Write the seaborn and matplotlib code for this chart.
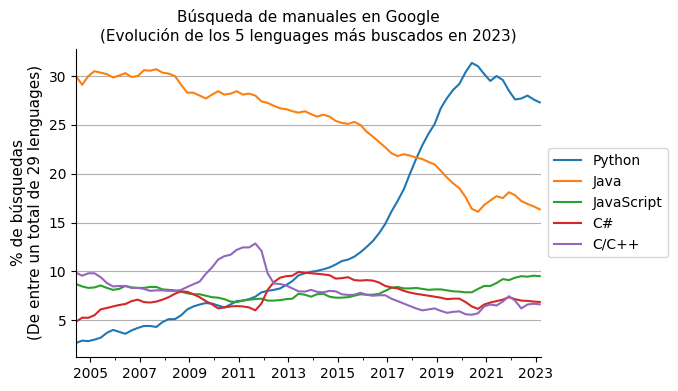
import matplotlib
matplotlib.use("Agg")
import matplotlib.pyplot as plt
import matplotlib.dates as mdates
import matplotlib.ticker as mticker
import seaborn as sns
import pandas as pd

# Quarterly samples (Jun 2004 .. Mar 2023)
dates = pd.date_range("2004-06-01", "2023-03-01", freq="3MS")

python = [2.66, 2.9, 2.85, 3.0, 3.2, 3.7, 4.0, 3.8, 3.6, 3.95, 4.2, 4.4, 4.4, 4.3, 4.8, 5.1,
          5.1, 5.5, 6.1, 6.4, 6.6, 6.75, 6.7, 6.5, 6.3, 6.6, 6.95, 7.0, 7.15, 7.4, 7.85, 8.0,
          8.1, 8.25, 8.6, 9.0, 9.6, 9.8, 9.95, 10.05, 10.2, 10.4, 10.7, 11.05, 11.2, 11.5,
          11.95, 12.5, 13.1, 13.9, 14.85, 16.1, 17.2, 18.4, 20.0, 21.5, 22.9, 24.1, 25.1,
          26.7, 27.75, 28.6, 29.2, 30.4, 31.35, 31.0, 30.2, 29.5, 30.0, 29.6, 28.5, 27.6,
          27.7, 28.0, 27.6, 27.3]
java = [30.0, 29.1, 30.0, 30.5, 30.35, 30.2, 29.85, 30.05, 30.3, 29.9, 30.0, 30.6, 30.55,
        30.7, 30.35, 30.25, 30.0, 29.1, 28.3, 28.3, 28.0, 27.7, 28.1, 28.45, 28.1, 28.2,
        28.45, 28.1, 28.2, 28.0, 27.4, 27.25, 26.95, 26.7, 26.6, 26.4, 26.25, 26.4, 26.1,
        25.85, 26.05, 25.85, 25.4, 25.2, 25.1, 25.3, 25.0, 24.3, 23.8, 23.25, 22.7, 22.1,
        21.8, 22.0, 21.85, 21.65, 21.5, 21.2, 20.95, 20.3, 19.6, 19.0, 18.5, 17.6, 16.4,
        16.1, 16.8, 17.25, 17.7, 17.5, 18.1, 17.8, 17.2, 16.9, 16.65, 16.35]
javascript = [8.7, 8.45, 8.3, 8.35, 8.55, 8.3, 8.1, 8.2, 8.5, 8.35, 8.3, 8.3, 8.4, 8.4, 8.15,
              8.1, 8.05, 7.9, 7.75, 7.65, 7.65, 7.5, 7.35, 7.3, 7.15, 6.9, 6.85, 7.0, 7.1,
              7.15, 7.2, 7.0, 7.0, 7.05, 7.15, 7.2, 7.7, 7.6, 7.4, 7.65, 7.7, 7.4, 7.3, 7.3,
              7.35, 7.5, 7.65, 7.6, 7.6, 7.7, 8.0, 8.3, 8.4, 8.25, 8.25, 8.3, 8.2, 8.1, 8.15,
              8.15, 8.05, 7.95, 7.92, 7.85, 7.85, 8.2, 8.5, 8.5, 8.8, 9.2, 9.1, 9.35, 9.5,
              9.45, 9.55, 9.5]
csharp = [4.83, 5.25, 5.24, 5.5, 6.1, 6.25, 6.4, 6.55, 6.65, 6.95, 7.1, 6.85, 6.8, 6.9, 7.1,
          7.35, 7.7, 7.95, 7.9, 7.65, 7.35, 6.95, 6.62, 6.2, 6.3, 6.4, 6.44, 6.4, 6.3, 6.0,
          6.7, 8.1, 8.9, 9.35, 9.5, 9.55, 9.95, 9.85, 9.8, 9.75, 9.68, 9.6, 9.25, 9.3, 9.4,
          9.1, 9.05, 9.1, 9.05, 8.85, 8.5, 8.35, 8.25, 8.0, 7.82, 7.7, 7.6, 7.5, 7.4, 7.3,
          7.15, 7.2, 7.2, 6.85, 6.4, 6.15, 6.6, 6.8, 6.95, 7.1, 7.35, 7.15, 7.0, 6.97, 6.9,
          6.86]
cpp = [9.88, 9.55, 9.8, 9.8, 9.4, 8.8, 8.45, 8.5, 8.5, 8.3, 8.3, 8.2, 8.0, 8.05, 8.05, 8.0,
       7.99, 8.1, 8.4, 8.68, 8.95, 9.75, 10.4, 11.2, 11.55, 11.7, 12.2, 12.45, 12.45, 12.85,
       12.1, 9.8, 8.75, 8.7, 8.55, 8.25, 7.95, 7.92, 8.1, 7.9, 7.85, 8.0, 7.95, 7.65, 7.58,
       7.6, 7.8, 7.6, 7.5, 7.55, 7.55, 7.2, 6.95, 6.7, 6.44, 6.2, 6.0, 6.1, 6.2, 5.95, 5.75,
       5.85, 5.9, 5.6, 5.55, 5.7, 6.4, 6.6, 6.5, 6.9, 7.45, 7.0, 6.2, 6.6, 6.68, 6.62]

languages = ["Python", "Java", "JavaScript", "C#", "C/C++"]
series = [python, java, javascript, csharp, cpp]
year_labels = ["2005", "2007", "2009", "2011", "2013", "2015", "2017", "2019", "2021", "2023"]
y_ticks = [5, 10, 15, 20, 25, 30]

df = pd.concat(
    [pd.DataFrame({"fecha": dates, "valor": vals, "lenguaje": name})
     for name, vals in zip(languages, series)],
    ignore_index=True,
)

plt.rcParams["font.family"] = ["DejaVu Sans"]
fig = plt.figure(figsize=(6.78, 3.91), dpi=100)
ax = fig.add_axes([0.112, 0.087, 0.686, 0.788])

sns.lineplot(data=df, x="fecha", y="valor", hue="lenguaje", hue_order=languages,
             palette=["#1f77b4", "#ff7f0e", "#2ca02c", "#d62728", "#9467bd"],
             linewidth=1.5, ax=ax)

ax.set_xlim(dates[0], pd.Timestamp("2023-03-20"))
ax.margins(y=0.05)
major = [mdates.date2num(pd.Timestamp(f"{y}-01-01")) for y in year_labels]
ax.xaxis.set_major_locator(mticker.FixedLocator(major))
ax.xaxis.set_major_formatter(mticker.FixedFormatter(year_labels))
ax.xaxis.set_minor_locator(mdates.YearLocator(1))
ax.tick_params(axis="both", labelsize=10)
ax.set_yticks(y_ticks)
ax.yaxis.grid(True, color="#b0b0b0", linewidth=0.8)
ax.xaxis.grid(False)
ax.set_axisbelow(True)
for s in ["top", "right"]:
    ax.spines[s].set_visible(False)

ax.set_xlabel("")
ax.set_ylabel("% de búsquedas\n(De entre un total de 29 lenguages)", fontsize=11)
ax.set_title("Búsqueda de manuales en Google\n(Evolución de los 5 lenguages más buscados en 2023)",
             fontsize=11)

leg = ax.legend(loc="center left", bbox_to_anchor=(1.0, 0.5), fontsize=10, title=None)

fig.savefig("out.png", dpi=100)
